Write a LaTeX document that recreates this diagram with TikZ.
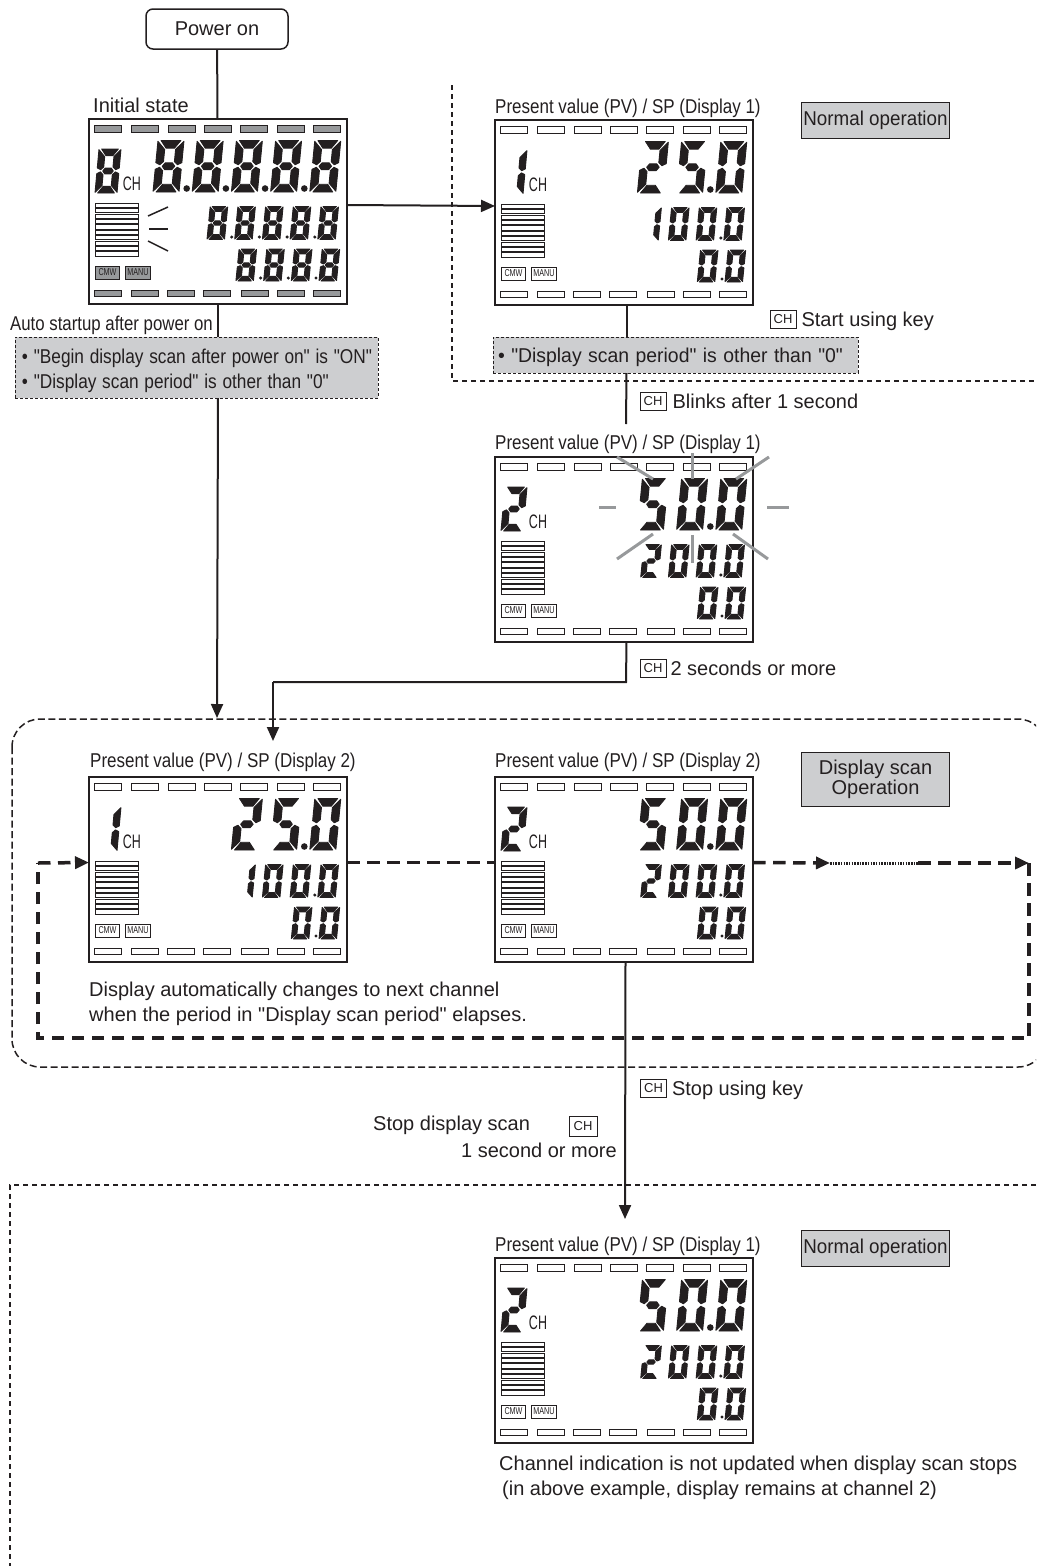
\documentclass[tikz,border=0pt]{standalone}
\usepackage{fontspec}
\setmainfont{Liberation Sans}[Ligatures=TeXOff]
\usepackage{xcolor}
\usetikzlibrary{
arrows.meta,
positioning
}
\definecolor{inkdark}{HTML}{231F20}
\definecolor{tagfill}{HTML}{CDCED0}
\definecolor{litseg}{HTML}{97999B}

\def\sega{(1.2,0)--(8.8,0)--(6.6,3)--(3.4,3)--cycle}
\def\segb{(10,.3)--(7.1,3.5)--(7.1,8.2)--(8.4,9.4)--(10,8.6)--cycle}
\def\segc{(10,11.2)--(8.4,10.4)--(7.1,11.7)--(7.1,16.6)--(10,19.7)--cycle}
\def\segd{(3.4,17)--(6.6,17)--(8.8,20)--(1.2,20)--cycle}
\def\sege{(0,11.2)--(1.6,10.4)--(2.9,11.7)--(2.9,16.6)--(0,19.7)--cycle}
\def\segf{(0,.3)--(2.9,3.5)--(2.9,8.2)--(1.6,9.4)--(0,8.6)--cycle}
\def\segg{(2.6,10)--(3.6,8.7)--(6.4,8.7)--(7.4,10)--(6.4,11.3)--(3.6,11.3)--cycle}
\expandafter\def\csname dig0\endcsname{a,b,c,d,e,f}
\expandafter\def\csname dig1\endcsname{b,c}
\expandafter\def\csname dig2\endcsname{a,b,g,e,d}
\expandafter\def\csname dig5\endcsname{a,f,g,c,d}
\expandafter\def\csname dig8\endcsname{a,b,c,d,e,f,g}

% x, y, width, height, slant, digit
\newcommand{\segdigit}[6]{
    \begin{scope}[shift={(#1+#5,#2)}, x={(#3/10*1pt,0pt)}, y={(-#5/20*1pt,-#4/20*1pt)}]
        \expandafter\let\expandafter\digsegs\csname dig#6\endcsname
        \foreach \s in \digsegs {
            \expandafter\let\expandafter\segpath\csname seg\s\endcsname
            \filldraw[inkdark, line width=.9pt, line join=round] \segpath;
        }
    \end{scope}
}

% name, x, y, colour of the bars, channel digit, big row, middle row, lower row
\newcommand{\lcdpanel}[8]{
    \node[lcdframe] (#1) at (#2,#3) {};
    \begin{scope}[shift={(#2,#3)}]
        \foreach \sx in {5.7,42.7,79,115.3,151.7,188,224.7}
            \draw[barseg, fill=#4] (\sx,6.5) rectangle +(27,6.5);
        \foreach \sx in {5.7,42,78,114,152,188,224}
            \draw[barseg, fill=#4] (\sx,171) rectangle +(27,6);
        \foreach \r in {0,...,9}
            \draw[barseg, line width=.6pt] (6.5,84+5.4*\r) rectangle +(42.5,4.2);
        \segdigit{6}{30}{22}{44}{4}{#5}
        \node[chtext] (#1ch) at (43,65) {CH};
        \node[flagbox, fill=#4] (#1cmw) at (18.5,153.5) {CMW};
        \node[flagbox, fill=#4] (#1manu) at (49,153.5) {MANU};
        \foreach \c/\d/\p in {#6} {
            \pgfmathsetmacro\cx{64+39.2*(\c-1)}
            \segdigit{\cx}{21.5}{26}{51.5}{5}{\d}
            \ifnum\p=1 \fill[inkdark] (\cx-5.5,69.5) circle (3.3pt); \fi
        }
        \foreach \c/\d/\p in {#7} {
            \pgfmathsetmacro\cx{118+27.7*(\c-1)}
            \segdigit{\cx}{87.5}{17.5}{33}{3.2}{\d}
            \ifnum\p=1 \fill[inkdark] (\cx-3,118) circle (1.7pt); \fi
        }
        \foreach \c/\d/\p in {#8} {
            \pgfmathsetmacro\cx{146.9+27.7*(\c-1)}
            \segdigit{\cx}{130}{17.5}{32}{3.2}{\d}
            \ifnum\p=1 \fill[inkdark] (\cx-3,159) circle (1.7pt); \fi
        }
    \end{scope}
}
\newcommand{\narrowtext}[1]{\scalebox{.85}[1]{#1}}

\begin{document}
\begin{tikzpicture}[
        x=1pt, y=-1pt,
        every node/.style={text=inkdark},
        note/.style={font=\fontsize{20}{25}\selectfont, inner sep=0pt, align=left},
        oneline/.style={note, text height=14.5pt, text depth=0pt},
        lcdframe/.style={draw=inkdark, line width=2pt, fill=white, anchor=north west, minimum width=258pt, minimum height=185pt, inner sep=0pt, outer sep=0pt},
        barseg/.style={draw=inkdark, line width=.7pt, fill=white},
        chtext/.style={font=\fontsize{19.5}{20}\selectfont, xscale=.64, inner sep=0pt},
        flagbox/.style={draw=inkdark, line width=.7pt, font=\fontsize{10}{10}\selectfont, xscale=.72, minimum width=34pt, minimum height=13pt, inner sep=0pt},
        keybox/.style={draw=inkdark, line width=.7pt, font=\fontsize{13}{13}\selectfont, minimum width=26pt, minimum height=18pt, inner sep=0pt},
        startbox/.style={draw=inkdark, line width=1.5pt, rounded corners=7pt, font=\fontsize{20}{25}\selectfont, minimum width=142pt, minimum height=40pt, inner sep=0pt},
        infobox/.style={draw=inkdark, line width=.8pt, dash pattern=on 3pt off 2pt, fill=tagfill, anchor=north west, font=\fontsize{20}{25}\selectfont, align=left, inner sep=0pt, outer sep=0pt},
        tagbox/.style={draw=inkdark, line width=1pt, fill=tagfill, anchor=north west, align=center, inner sep=0pt},
        flow/.style={line width=2pt, draw=inkdark},
        flowarrow/.style={flow, -{Triangle[length=14pt,width=12pt]}},
        zoneline/.style={draw=inkdark, line width=1.4pt, dash pattern=on 5pt off 4pt},
        scanzone/.style={draw=inkdark, line width=1.5pt, dash pattern=on 7pt off 3.5pt, rounded corners=28pt},
        scanline/.style={draw=inkdark, line width=3.5pt, dash pattern=on 12.5pt off 7.5pt},
        scantip/.style={-{Triangle[length=14pt,width=12pt]}},
        blinkray/.style={draw=litseg, line width=3pt}
    ]
        \useasboundingbox (0,0) rectangle (1036,1566);
        \begin{scope}
            \clip (0,0) rectangle (1036,1566);
            \draw[scanzone] (12,719) rectangle (1046,1067);
            \draw[zoneline] (452,85) -- (452,381) -- (1036,381);
            \draw[zoneline] (1036,1185) -- (10,1185) -- (10,1566);
        \end{scope}

        \node[startbox] (power) at (217,29) {Power on};

        \lcdpanel{init}{89}{119}{litseg}{8}{1/8/0,2/8/1,3/8/1,4/8/1,5/8/1}{1/8/0,2/8/1,3/8/1,4/8/1,5/8/1}{1/8/0,2/8/1,3/8/1,4/8/1}
        \lcdpanel{normal}{495}{120}{white}{1}{3/2/0,4/5/0,5/0/1}{2/1/0,3/0/0,4/0/0,5/0/1}{3/0/0,4/0/1}
        \lcdpanel{blink}{495}{457}{white}{2}{3/5/0,4/0/0,5/0/1}{2/2/0,3/0/0,4/0/0,5/0/1}{3/0/0,4/0/1}
        \lcdpanel{scanone}{89}{777}{white}{1}{3/2/0,4/5/0,5/0/1}{2/1/0,3/0/0,4/0/0,5/0/1}{3/0/0,4/0/1}
        \lcdpanel{scantwo}{495}{777}{white}{2}{3/5/0,4/0/0,5/0/1}{2/2/0,3/0/0,4/0/0,5/0/1}{3/0/0,4/0/1}
        \lcdpanel{stopped}{495}{1258}{white}{2}{3/5/0,4/0/0,5/0/1}{2/2/0,3/0/0,4/0/0,5/0/1}{3/0/0,4/0/1}

        \draw[flow, line width=1.5pt] (148,216) -- (168,207);
        \draw[flow, line width=1.5pt] (149,229) -- (168,229);
        \draw[flow, line width=1.5pt] (148,241) -- (168,251);

        \foreach \ax/\ay/\bx/\by in {617/457/653/479, 692/453/692/479, 769/457/736/479, 599/507/616/507, 767/507/789/507, 617/559/653/534, 692/535/692/563, 733/534/768/559}
            \draw[blinkray] (\ax,\ay) -- (\bx,\by);

        \node[oneline, anchor=west] (initlabel) at (93,105.5) {Initial state};
        \node[oneline, anchor=west] (normallabel) at (495,106) {\narrowtext{Present value (PV) / SP (Display 1)}};
        \node[oneline, anchor=west] (blinklabel) at (495,442) {\narrowtext{Present value (PV) / SP (Display 1)}};
        \node[oneline, anchor=west] (scanonelabel) at (90,760.5) {\narrowtext{Present value (PV) / SP (Display 2)}};
        \node[oneline, anchor=west] (scantwolabel) at (495,760.5) {\narrowtext{Present value (PV) / SP (Display 2)}};
        \node[oneline, anchor=west] (stoppedlabel) at (495,1244.5) {\narrowtext{Present value (PV) / SP (Display 1)}};
        \node[oneline, anchor=west] (autolabel) at (10,323) {\scalebox{.84}[1]{Auto startup after power on}};

        \node[infobox, text width=363pt, minimum height=61pt] (autobox) at (15,337) {\rule{0pt}{22pt}\hspace{7pt}\scalebox{.863}[1]{\textbullet\ "Begin display scan after power on" is "ON"}\\\hspace{7pt}\scalebox{.863}[1]{\textbullet\ "Display scan period" is other than "0"}};
        \node[infobox, text width=365pt, minimum height=36pt] (periodbox) at (493,337) {\rule{0pt}{20pt}\hspace{5pt}\scalebox{.97}[1]{\textbullet\ "Display scan period" is other than "0"}};

        \node[tagbox, minimum width=148pt, minimum height=36pt, font=\fontsize{20}{25}\selectfont] (normaltag) at (801,102) {\scalebox{.94}[1]{Normal operation}};
        \node[tagbox, minimum width=148pt, minimum height=54pt, font=\fontsize{20}{20}\selectfont] (scantag) at (801,752) {Display scan\\Operation};
        \node[tagbox, minimum width=148pt, minimum height=36pt, font=\fontsize{20}{25}\selectfont] (stoppedtag) at (801,1230) {\scalebox{.94}[1]{Normal operation}};

        \node[keybox] (startkey) at (783,319.5) {CH};
        \node[oneline, right=5pt of startkey] (starttext) {Start using key};
        \node[keybox] (blinkkey) at (653,401.5) {CH};
        \node[oneline, right=6pt of blinkkey] (blinktext) {Blinks after 1 second};
        \node[keybox] (holdkey) at (653,668) {CH};
        \node[oneline, right=4pt of holdkey] (holdtext) {2 seconds or more};
        \node[keybox] (stopkey) at (653.5,1088) {CH};
        \node[oneline, right=5pt of stopkey] (stoptext) {Stop using key};
        \node[oneline, anchor=west] (stopscan) at (373,1123) {Stop display scan};
        \node[keybox, minimum width=28pt, minimum height=20pt] (stopscankey) at (583,1126) {CH};
        \node[oneline, anchor=east] (stopsecond) at (617,1150) {1 second or more};

        \node[note, anchor=north west] (scannote) at (89,982) {Display automatically changes to next channel\\when the period in "Display scan period" elapses.};
        \node[note, anchor=north west] (stopnote) at (499,1456) {Channel indication is not updated when display scan stops\\\hspace{3pt}(in above example, display remains at channel 2)};

        \coordinate (autoend) at (217,718);
        \coordinate (blinkend) at (626,424);
        \coordinate (holdturn) at (626,682);
        \coordinate (holdcross) at (273,682);
        \coordinate (holdend) at (273,741);
        \coordinate (stopend) at (625,1219);
        \coordinate (loopleft) at (38,863);
        \coordinate (loopright) at (1029,863);
        \coordinate (loopbl) at (38,1038);
        \coordinate (loopbr) at (1029,1038);
        \coordinate (dotstart) at (830,863);
        \coordinate (dotend) at (918,863);

        \draw[flow] (power) -- (init);
        \draw[flow] (init.south) -- (init.south |- autobox.north);
        \draw[flowarrow] (init.south |- autobox.south) -- (autoend);
        \draw[flowarrow] ([yshift=6.5pt]init.east) -- ([yshift=6.5pt]normal.west);
        \draw[flow] ([xshift=2.5pt]normal.south) -- ([xshift=2.5pt]normal.south |- periodbox.north);
        \draw[flow] ([xshift=2.5pt]normal.south |- periodbox.south) -- (blinkend);
        \draw[flow] ([xshift=2.5pt]blink.south) -- (holdturn) -- (holdcross);
        \draw[flowarrow] (holdcross) -- (holdend);
        \draw[flowarrow] ([xshift=1.5pt]scantwo.south) -- (stopend);

        \draw[scanline] ([yshift=7pt]scanone.east) -- ([yshift=7pt]scantwo.west);
        \draw[scanline, scantip] ([yshift=7pt]scantwo.east) -- (dotstart);
        \draw[draw=inkdark, line width=3pt, dash pattern=on 1.5pt off 1.2pt] (dotstart) -- (dotend);
        \draw[scanline, scantip] (dotend) -- (loopright);
        \draw[scanline] (loopright) -- (loopbr) -- (loopbl) -- (loopleft);
        \draw[scanline, scantip] (loopleft) -- ([yshift=7pt]scanone.west);
    \end{tikzpicture}
\end{document}
